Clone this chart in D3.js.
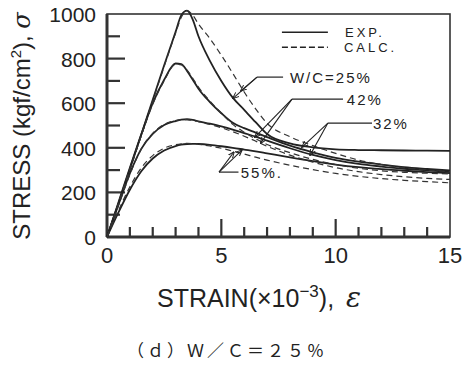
<!DOCTYPE html>
<html>
<head>
<meta charset="utf-8">
<script src="https://cdn.jsdelivr.net/npm/d3@7"></script>
<style>
  body { margin: 0; background: #fff; }
  text { font-family: "Liberation Sans", Arial, sans-serif; fill: #222; }
</style>
</head>
<body>
<script>
// strain grid (x10^-3) shared by all curves
const strain = [0, 0.5, 1, 1.5, 2, 2.5, 3, 3.25, 3.5, 3.75, 4, 4.5, 5, 5.5, 6, 6.5, 7, 8, 9, 10, 11, 12, 13, 14, 15];

// stress (kgf/cm2), experimental
const exp25 = [0, 150, 305, 460, 615, 770, 920, 995, 1015, 975, 900, 790, 700, 625, 570, 515, 462, 420, 402, 393, 390, 389, 388, 387, 386];
const exp32 = [0, 155, 310, 460, 600, 705, 778, 775, 745, 705, 665, 605, 555, 512, 488, 468, 448, 410, 380, 355, 338, 325, 313, 305, 298];
const exp42 = [0, 145, 285, 395, 462, 502, 520, 526, 528, 525, 519, 508, 496, 482, 466, 450, 432, 398, 368, 345, 328, 316, 306, 299, 292];
const exp55 = [0, 110, 212, 295, 352, 388, 408, 414, 417, 418, 417, 413, 407, 400, 392, 384, 375, 357, 340, 325, 313, 304, 297, 291, 286];

// stress (kgf/cm2), calculated
const calc25 = [0, 148, 300, 455, 610, 765, 915, 985, 1015, 995, 955, 890, 815, 734, 650, 575, 510, 450, 410, 375, 345, 325, 310, 300, 293];
const calc32 = [0, 152, 305, 455, 595, 700, 775, 772, 748, 712, 672, 610, 555, 505, 470, 440, 415, 378, 348, 325, 308, 297, 290, 286, 283];
const calc42 = [0, 140, 280, 395, 465, 505, 522, 526, 526, 523, 517, 505, 490, 472, 452, 430, 407, 367, 336, 311, 293, 280, 270, 263, 258];
const calc55 = [0, 118, 225, 310, 365, 398, 414, 418, 420, 419, 416, 408, 398, 385, 372, 358, 345, 322, 302, 285, 272, 262, 254, 248, 243];

const xTicks = [0, 5, 10, 15];
const yTicks = [0, 200, 400, 600, 800, 1000];

const width = 465, height = 368;
const margin = { top: 14, right: 15, bottom: 131, left: 107 };
const w = width - margin.left - margin.right,
      h = height - margin.top - margin.bottom;

const svg = d3.select("body").append("svg")
    .attr("width", width)
    .attr("height", height);

svg.append("defs").append("marker")
    .attr("id", "arr")
    .attr("viewBox", "0 0 10 10")
    .attr("refX", 9).attr("refY", 5)
    .attr("markerWidth", 6).attr("markerHeight", 6)
    .attr("orient", "auto")
    .append("path")
    .attr("d", "M0,1 L10,5 L0,9")
    .attr("fill", "none")
    .attr("stroke", "#222")
    .attr("stroke-width", 1.5);

const g = svg.append("g")
    .attr("transform", "translate(" + margin.left + "," + margin.top + ")");

const x = d3.scaleLinear().domain([0, 15]).range([0, w]);
const y = d3.scaleLinear().domain([0, 1000]).range([h, 0]);

// frame
g.append("rect")
    .attr("width", w).attr("height", h)
    .attr("fill", "none")
    .attr("stroke", "#333")
    .attr("stroke-width", 1.6);
g.append("line").attr("x1", 0).attr("x2", 0).attr("y1", 0).attr("y2", h)
    .attr("stroke", "#333").attr("stroke-width", 3);
g.append("line").attr("x1", 0).attr("x2", w).attr("y1", h).attr("y2", h)
    .attr("stroke", "#333").attr("stroke-width", 3);

// inward ticks
g.selectAll(".xt").data(d3.range(1, 15)).enter().append("line")
    .attr("x1", d => x(d)).attr("x2", d => x(d))
    .attr("y1", h).attr("y2", d => h - (d % 5 === 0 ? 18 : 10))
    .attr("stroke", "#333").attr("stroke-width", 2.2);
g.selectAll(".yt").data(d3.range(100, 1000, 100)).enter().append("line")
    .attr("y1", d => y(d)).attr("y2", d => y(d))
    .attr("x1", 0).attr("x2", d => (d % 200 === 0 ? 18 : 13))
    .attr("stroke", "#333").attr("stroke-width", 2.2);

// tick labels
g.selectAll(".xl").data(xTicks).enter().append("text")
    .attr("x", d => x(d)).attr("y", h + 26)
    .attr("text-anchor", "middle")
    .style("font-size", "22px")
    .text(d => d);
g.selectAll(".yl").data(yTicks).enter().append("text")
    .attr("x", -11).attr("y", d => y(d) + 8)
    .attr("text-anchor", "end")
    .style("font-size", "21px")
    .text(d => d);

// curves
const line = d3.line()
    .x((d, i) => x(strain[i]))
    .y(d => y(d))
    .curve(d3.curveMonotoneX);

[exp25, exp32, exp42, exp55].forEach(s => {
    g.append("path").datum(s)
        .attr("d", line)
        .attr("fill", "none")
        .attr("stroke", "#222")
        .attr("stroke-width", 1.8);
});
[calc25, calc32, calc42, calc55].forEach(s => {
    g.append("path").datum(s)
        .attr("d", line)
        .attr("fill", "none")
        .attr("stroke", "#333")
        .attr("stroke-width", 1.2)
        .attr("stroke-dasharray", "6,4");
});

// legend
g.append("line")
    .attr("x1", x(7.65)).attr("x2", x(9.66)).attr("y1", y(918)).attr("y2", y(918))
    .attr("stroke", "#222").attr("stroke-width", 1.6);
g.append("line")
    .attr("x1", x(7.65)).attr("x2", x(9.66)).attr("y1", y(851)).attr("y2", y(851))
    .attr("stroke", "#222").attr("stroke-width", 1.3).attr("stroke-dasharray", "6,3");
g.append("text").attr("x", x(10.41)).attr("y", y(918) + 5)
    .style("font-size", "13px").style("letter-spacing", "3px").text("EXP.");
g.append("text").attr("x", x(10.36)).attr("y", y(851) + 5)
    .style("font-size", "13px").style("letter-spacing", "3px").text("CALC.");

// labels with leaders and arrows
const notes = [
    { text: "W/C=25%", tx: 8.0, ty: 681, lx1: 7.7, lx0: 6.56, ly: 717, tips: [[5.51, 622], [5.85, 655]] },
    { text: "42%", tx: 10.49, ty: 578, lx1: 10.32, lx0: 8.09, ly: 618, tips: [[6.47, 448], [6.72, 421]] },
    { text: "32%", tx: 11.63, ty: 479, lx1: 11.59, lx0: 9.66, ly: 511, tips: [[8.53, 403], [8.88, 367]] },
    { text: "55%.", tx: 5.85, ty: 251, lx1: 5.75, lx0: 4.9, ly: 291, tips: [[5.55, 381], [5.9, 390]] }
];
notes.forEach(n => {
    g.append("line")
        .attr("x1", x(n.lx0)).attr("x2", x(n.lx1)).attr("y1", y(n.ly)).attr("y2", y(n.ly))
        .attr("stroke", "#222").attr("stroke-width", 1.2);
    n.tips.forEach(t => {
        g.append("line")
            .attr("x1", x(n.lx0)).attr("y1", y(n.ly))
            .attr("x2", x(t[0])).attr("y2", y(t[1]))
            .attr("stroke", "#222").attr("stroke-width", 1.1)
            .attr("marker-end", "url(#arr)");
    });
    g.append("text").attr("x", x(n.tx)).attr("y", y(n.ly) + 6)
        .style("font-size", "15px").style("letter-spacing", "2px").text(n.text);
});

// axis titles
const xt = svg.append("text")
    .attr("x", 157).attr("y", 307)
    .style("font-size", "25px");
xt.append("tspan").text("STRAIN(×10");
xt.append("tspan").attr("dy", -10).style("font-size", "17px").text("−3");
xt.append("tspan").attr("dy", 10).text("),");
xt.append("tspan").attr("dx", 12)
    .style("font-family", "'DejaVu Serif', serif").style("font-style", "italic").style("font-size", "28px")
    .text("ε");

const yt = svg.append("text")
    .attr("transform", "translate(30,126) rotate(-90)")
    .attr("text-anchor", "middle")
    .style("font-size", "24px");
yt.append("tspan").text("STRESS (kgf/cm");
yt.append("tspan").attr("dy", -9).style("font-size", "15px").text("2");
yt.append("tspan").attr("dy", 9).text("), ");
yt.append("tspan").style("font-family", "'DejaVu Serif', serif").style("font-style", "italic").text("σ");

// caption
svg.append("text")
    .attr("x", 127).attr("y", 357)
    .style("font-family", "'Noto Sans CJK JP', sans-serif")
    .style("font-size", "17px")
    .style("letter-spacing", "3px")
    .text("（ｄ）Ｗ／Ｃ＝２５％");
</script>
</body>
</html>
